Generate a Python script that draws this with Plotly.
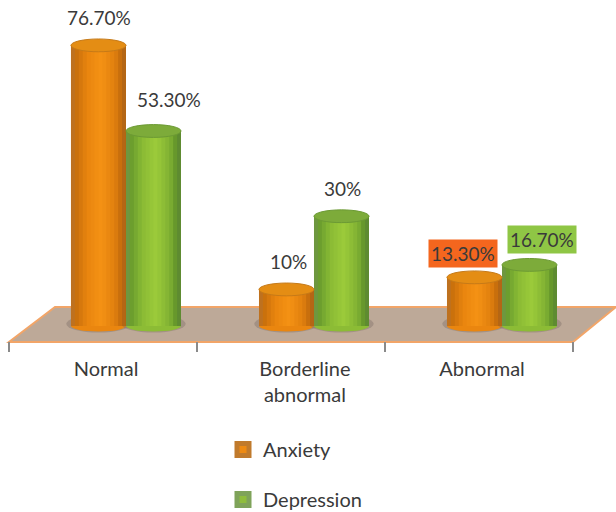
import numpy as np
import plotly.graph_objects as go

# ---- data
categories = ["Normal", "Borderline<br>abnormal", "Abnormal"]
category_positions = [0, 1, 2]
anxiety = [76.7, 10, 13.3]
depression = [53.3, 30, 16.7]
anxiety_labels = ["76.70%", "10%", "13.30%"]
depression_labels = ["53.30%", "30%", "16.70%"]

# ---- styling
W, H = 616, 512
FONT = "Lato"
TEXT = "#3a3a3a"
BAR_W = 0.2926
N_STRIPS = 14
ORANGE_STOPS = [(0.0, "#b8722a"), (0.1, "#c9700c"), (0.3, "#e9850f"), (0.55, "#f59214"),
                (0.8, "#e07f0e"), (0.95, "#b9650d"), (1.0, "#a9682a")]
GREEN_STOPS = [(0.0, "#6f9448"), (0.1, "#6b9d2e"), (0.3, "#8abb35"), (0.55, "#9ccb3a"),
               (0.8, "#7fb032"), (0.95, "#588a28"), (1.0, "#6c8f48")]
ORANGE_TOP, ORANGE_RIM = "#e48d14", "#c67a18"
GREEN_TOP, GREEN_RIM = "#7dab3a", "#6c9a34"
ORANGE_FILL, ORANGE_EDGE = "#ee8a12", "#c07a2c"
GREEN_FILL, GREEN_EDGE = "#8fbd3c", "#7fa35a"


def ramp(stops, n):
    pos = [s[0] for s in stops]
    rgb = np.array([[int(s[1][i:i + 2], 16) for i in (1, 3, 5)] for s in stops])
    out = []
    for t in (np.arange(n) + 0.5) / n:
        c = [int(round(np.interp(t, pos, rgb[:, ch]))) for ch in range(3)]
        out.append(f"rgb({c[0]},{c[1]},{c[2]})")
    return out


xp = lambda px: px / W
yp = lambda py: 1 - py / H

fig = go.Figure()

# empty trace that makes the visible tick axis exist
fig.add_trace(go.Scatter(x=[0, 3], y=[0, 0], mode="none", showlegend=False,
                         hoverinfo="skip", xaxis="x", yaxis="y"))

series = [
    ("Anxiety", anxiety, -BAR_W, ORANGE_STOPS, ORANGE_TOP, ORANGE_RIM, ORANGE_FILL, ORANGE_EDGE),
    ("Depression", depression, 0.0, GREEN_STOPS, GREEN_TOP, GREEN_RIM, GREEN_FILL, GREEN_EDGE),
]
shapes = []

# floor
fx = [55, 616, 573, 9]
fy = [307, 307, 342, 342]
path = "M " + " L ".join(f"{xp(a)},{yp(b)}" for a, b in zip(fx, fy)) + " Z"
shapes.append(dict(type="path", path=path, xref="paper", yref="paper", layer="below",
                   fillcolor="#bda998", line=dict(color="#f2a568", width=2)))

for name, vals, off, stops, top, rim, fill, edge in series:
    strips = ramp(stops, N_STRIPS)
    # legend entry only: the heavy outline gives the large swatch
    fig.add_trace(go.Bar(x=[None], y=[None], name=name,
                         marker=dict(color=fill, line=dict(color=edge, width=5)),
                         xaxis="x2", yaxis="y", legendgroup=name, hoverinfo="skip"))
    # solid body, so no seam between the shading strips can show the floor
    fig.add_trace(go.Bar(x=category_positions, y=vals, width=BAR_W, offset=off,
                         marker=dict(color=fill, opacity=1, line=dict(width=0)),
                         xaxis="x2", yaxis="y", showlegend=False, legendgroup=name,
                         hoverinfo="skip"))
    for k, col in enumerate(strips):
        wid = BAR_W / N_STRIPS + (0.006 if k < N_STRIPS - 1 else 0)
        fig.add_trace(go.Bar(x=category_positions, y=vals, width=wid,
                             offset=off + k * BAR_W / N_STRIPS,
                             marker=dict(color=col, opacity=1, line=dict(width=0)),
                             xaxis="x2", yaxis="y", showlegend=False, legendgroup=name,
                             hoverinfo="skip"))
    for c, v in zip(category_positions, vals):
        # top cap
        shapes.append(dict(type="circle", xref="x2", yref="y", layer="above",
                           x0=c + off, x1=c + off + BAR_W, y0=v - 1.75, y1=v + 1.75,
                           fillcolor=top, line=dict(color=rim, width=1)))
        # dark ground shadow and rounded base
        shapes.append(dict(type="circle", xref="x2", yref="y", layer="below",
                           x0=c + off - 0.025, x1=c + off + BAR_W + 0.025, y0=-1.8, y1=3.0,
                           fillcolor="#7d6f66", opacity=0.4, line=dict(width=0)))
        shapes.append(dict(type="circle", xref="x2", yref="y", layer="below",
                           x0=c + off, x1=c + off + BAR_W, y0=-1.5, y1=1.5,
                           fillcolor=strips[N_STRIPS // 3], line=dict(width=0)))

annotations = []
label_shift = [(1, 15), (2, 1), (-11, 12)]
label_rise = [(28, 31), (28, 28), (24, 25)]
label_bg = [(None, None), (None, None), ("#f4661e", "#8fc645")]
for i, c in enumerate(category_positions):
    for j, (vals, labs, off) in enumerate(((anxiety, anxiety_labels, -BAR_W / 2),
                                           (depression, depression_labels, BAR_W / 2))):
        bg = label_bg[i][j]
        annotations.append(dict(
            x=c + off, y=vals[i], xref="x2", yref="y", text=labs[i], showarrow=False,
            xshift=label_shift[i][j], yshift=label_rise[i][j],
            font=dict(family=FONT, size=19, color=TEXT),
            bgcolor=bg if bg else "rgba(0,0,0,0)", borderpad=2))

fig.update_layout(
    width=W, height=H, margin=dict(l=0, r=0, t=0, b=0, autoexpand=False),
    paper_bgcolor="white", plot_bgcolor="rgba(0,0,0,0)",
    barmode="overlay", shapes=shapes, annotations=annotations,
    font=dict(family=FONT, size=20, color=TEXT),
    xaxis=dict(domain=[xp(9), xp(573)], range=[0, 3], anchor="free", position=yp(341),
               showgrid=False, zeroline=False, showline=False,
               tickmode="array", tickvals=[0.516, 1.574, 2.516], ticktext=categories,
               ticks="", ticklabelstandoff=14, tickfont=dict(family=FONT, size=20, color=TEXT),
               minor=dict(tickmode="array", tickvals=[0, 1, 2, 3], ticks="outside", ticklen=10,
                          tickwidth=1.5, tickcolor="#8a8a8a", showgrid=False)),
    # the bars sit about 23 px right of the tick axis, as in a 3-D view
    xaxis2=dict(range=[-0.6223, 2.3777], overlaying="x", visible=False),
    # zero sits at 326 px; the range runs below it so the rounded bases are not clipped
    yaxis=dict(domain=[yp(337), yp(15)], range=[-3, 85], visible=False),
    legend=dict(x=xp(223), y=yp(430), xanchor="left", yanchor="top", traceorder="grouped",
                tracegroupgap=21, bgcolor="rgba(0,0,0,0)",
                font=dict(family=FONT, size=20, color=TEXT)),
)

fig.write_html("out.html", config={"displayModeBar": False},
               post_script="document.body.style.margin='0';"
                           "document.documentElement.style.overflow='hidden';"
                           "window.scrollTo(0,0);")
